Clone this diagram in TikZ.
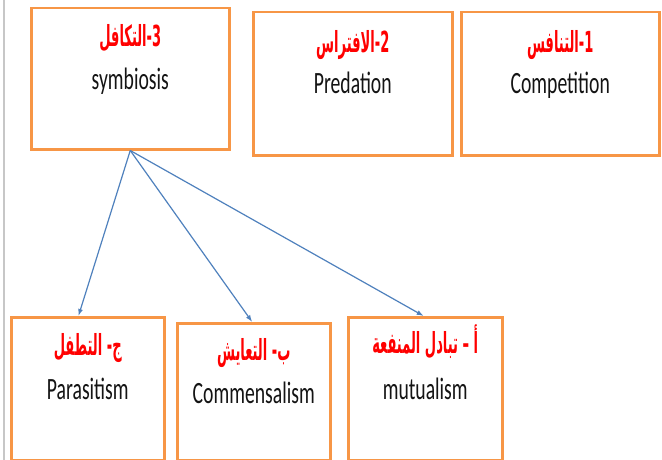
\documentclass[tikz,border=0pt]{standalone}
\usepackage{fontspec}
\setmainfont{Carlito}
\newfontfamily\arabicfont[Script=Arabic]{DejaVu Sans}
\TeXXeTstate=1
\usetikzlibrary{arrows.meta,calc}
\definecolor{boxorange}{HTML}{F79646}
\definecolor{arrowblue}{HTML}{4F81BD}
\definecolor{arred}{HTML}{FF0000}
\newcommand{\artxt}[1]{\scalebox{0.45}[1]{\arabicfont\bfseries\fontsize{29}{34}\selectfont\beginR #1\endR}}
\newcommand{\entxt}[1]{\scalebox{0.635}[1]{\fontsize{31}{36}\selectfont #1}}
\begin{document}
\begin{tikzpicture}[x=1pt,y=-1pt,
  boxnode/.style={draw=boxorange, line width=2.5pt, fill=white, anchor=north west, inner sep=0pt},
  arlabel/.style={text=arred, anchor=base, inner sep=0pt},
  enlabel/.style={text=black!92, anchor=base, inner sep=0pt},
  conn/.style={draw=arrowblue, line width=1.2pt, -{Latex[length=7pt,width=5pt]}}]
\useasboundingbox (0,0) rectangle (662,460);
\fill[white] (0,0) rectangle (662,460);
\draw[black!22, line width=1.5pt] (4,0) -- (4,460);

\node[boxnode, minimum width=198pt, minimum height=141pt] (sym) at (30,7) {};
\node[boxnode, minimum width=199pt, minimum height=143pt] (pred) at (252,11) {};
\node[boxnode, minimum width=198pt, minimum height=143pt] (comp) at (460,11) {};
\node[boxnode, minimum width=153pt, minimum height=143pt] (para) at (10,316) {};
\node[boxnode, minimum width=153pt, minimum height=137pt] (comm) at (176,322) {};
\node[boxnode, minimum width=154pt, minimum height=143pt] (mut) at (347,316) {};

\node[arlabel] (symar) at ($(sym.north)+(0,40)$) {\artxt{3-التكافل}};
\node[enlabel] (symen) at ($(sym.north)+(0,82)$) {\entxt{symbiosis}};
\node[arlabel] (predar) at ($(pred.north)+(0,42)$) {\artxt{2-الافتراس}};
\node[enlabel] (preden) at ($(pred.north)+(0,83)$) {\entxt{Predation}};
\node[arlabel] (compar) at ($(comp.north)+(0,42)$) {\artxt{1-التنافس}};
\node[enlabel] (compen) at ($(comp.north)+(0,83)$) {\entxt{Competition}};
\node[arlabel] (paraar) at ($(para.north)+(0,39)$) {\artxt{ج- التطفل}};
\node[enlabel] (paraen) at ($(para.north)+(0,83)$) {\entxt{Parasitism}};
\node[arlabel] (commar) at ($(comm.north)+(0,38)$) {\artxt{ب- التعايش}};
\node[enlabel] (commen) at ($(comm.north)+(0,81)$) {\entxt{Commensalism}};
\node[arlabel] (mutar) at ($(mut.north)+(0,37)$) {\artxt{أ – تبادل المنفعة}};
\node[enlabel] (muten) at ($(mut.north)+(0,83)$) {\entxt{mutualism}};

\draw[conn] (sym.south) -- ($(para.north west)!0.44!(para.north east)$);
\draw[conn] (sym.south) -- ($(comm.north west)!0.49!(comm.north east)$);
\draw[conn] (sym.south) -- ($(mut.north west)!0.49!(mut.north east)$);
\end{tikzpicture}
\end{document}
